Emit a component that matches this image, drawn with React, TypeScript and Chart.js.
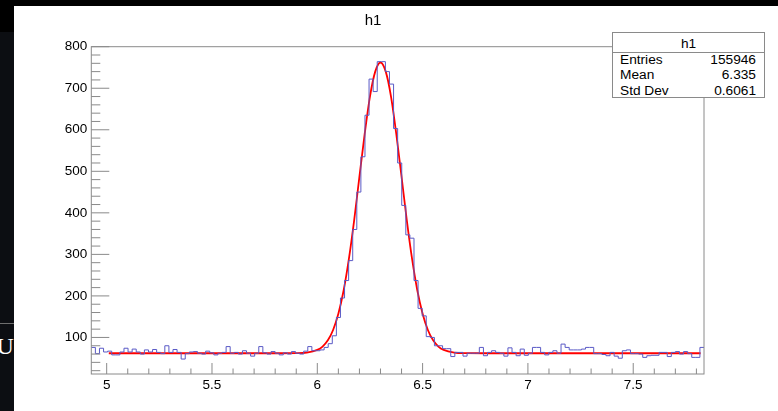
import React, { useEffect, useRef } from "react";
import { Chart, registerables } from "chart.js";

Chart.register(...registerables);

// ---- data ----
const HIST_TITLE = "h1";
const X_MIN = 4.927;
const X_MAX = 7.836;
const Y_MIN = 12;
const Y_MAX = 800;

// 150 bin contents (left to right)
const BIN_COUNTS = [
  76, 61, 74, 65, 67, 58, 58, 65, 74, 65,
  72, 65, 60, 70, 65, 71, 64, 61, 80, 64,
  71, 64, 48, 61, 65, 66, 62, 60, 67, 63,
  58, 62, 64, 78, 62, 64, 60, 68, 62, 55,
  62, 78, 63, 60, 66, 62, 58, 63, 60, 66,
  62, 60, 67, 78, 68, 68, 70, 76, 85, 104,
  148, 195, 237, 285, 360, 450, 535, 635, 722, 692,
  764, 764, 740, 710, 603, 520, 418, 347, 339, 237,
  170, 152, 102, 100, 80, 80, 73, 73, 54, 64,
  64, 55, 62, 62, 62, 76, 56, 64, 68, 64,
  62, 55, 75, 64, 56, 72, 57, 62, 76, 76,
  64, 58, 64, 68, 62, 84, 76, 70, 70, 70,
  72, 76, 76, 61, 61, 59, 56, 64, 55, 50,
  68, 70, 61, 61, 60, 52, 56, 57, 57, 64,
  64, 54, 64, 66, 60, 66, 61, 52, 52, 76,
];

// fit curve samples
const FIT_X = [
  5.01, 5.5, 5.8, 5.9, 5.95, 6.0, 6.025, 6.05, 6.075, 6.1, 6.125, 6.15, 6.175,
  6.2, 6.225, 6.25, 6.275, 6.3, 6.325, 6.35, 6.375, 6.4, 6.425, 6.45, 6.475,
  6.5, 6.525, 6.55, 6.575, 6.6, 6.65, 6.7, 6.8, 7.2, 7.82,
];
const FIT_Y = [
  62, 62, 62, 62.2, 63.5, 70, 78, 93, 118, 157, 213, 289, 382,
  487, 590, 680, 740, 762, 740, 680, 590, 487, 382, 289, 213,
  157, 118, 93, 78, 70, 63.5, 62.2, 62, 62, 62,
];

const X_TICKS = [5, 5.5, 6, 6.5, 7, 7.5];
const X_TICK_LABELS = ["5", "5.5", "6", "6.5", "7", "7.5"];
const X_MINOR = [
  5.1, 5.2, 5.3, 5.4, 5.6, 5.7, 5.8, 5.9, 6.1, 6.2, 6.3, 6.4,
  6.6, 6.7, 6.8, 6.9, 7.1, 7.2, 7.3, 7.4, 7.6, 7.7, 7.8,
];
const Y_TICKS = [100, 200, 300, 400, 500, 600, 700, 800];
const Y_TICK_LABELS = ["100", "200", "300", "400", "500", "600", "700", "800"];
const Y_MINOR = [
  20, 40, 60, 80, 120, 140, 160, 180, 220, 240, 260, 280, 320, 340, 360, 380,
  420, 440, 460, 480, 520, 540, 560, 580, 620, 640, 660, 680, 720, 740, 760, 780,
];

const STAT_NAMES = ["Entries", "Mean", "Std Dev"];
const STAT_VALUES = ["155946", "6.335", "0.6061"];

const FONT = "'Liberation Sans', Arial, Helvetica, sans-serif";
const FRAME = "#8a8a8a";

const frameTicks = {
  id: "frameTicks",
  afterDatasetsDraw(chart: any) {
    const { ctx, chartArea: a, scales } = chart;
    const x = scales.x;
    const y = scales.y;
    ctx.save();
    ctx.strokeStyle = FRAME;
    ctx.lineWidth = 1;
    ctx.strokeRect(a.left, a.top, a.right - a.left, a.bottom - a.top);
    ctx.beginPath();
    for (const v of X_TICKS) {
      const p = x.getPixelForValue(v);
      ctx.moveTo(p, a.bottom);
      ctx.lineTo(p, a.bottom - 11);
    }
    for (const v of X_MINOR) {
      const p = x.getPixelForValue(v);
      ctx.moveTo(p, a.bottom);
      ctx.lineTo(p, a.bottom - 5.5);
    }
    for (const v of Y_TICKS) {
      const p = y.getPixelForValue(v);
      ctx.moveTo(a.left, p);
      ctx.lineTo(a.left + 18, p);
    }
    for (const v of Y_MINOR) {
      const p = y.getPixelForValue(v);
      ctx.moveTo(a.left, p);
      ctx.lineTo(a.left + 9, p);
    }
    ctx.stroke();
    ctx.restore();
  },
};

export default function App() {
  const canvasRef = useRef<HTMLCanvasElement | null>(null);

  useEffect(() => {
    const canvas = canvasRef.current;
    if (!canvas) return;
    const binW = (X_MAX - X_MIN) / BIN_COUNTS.length;
    const histPoints = BIN_COUNTS.map((v, i) => ({ x: X_MIN + i * binW, y: v }));
    histPoints.push({ x: X_MAX, y: BIN_COUNTS[BIN_COUNTS.length - 1] });
    const fitPoints = FIT_X.map((xv, i) => ({ x: xv, y: FIT_Y[i] }));

    const chart = new Chart(canvas, {
      type: "line",
      data: {
        datasets: [
          {
            label: HIST_TITLE,
            data: histPoints,
            stepped: true,
            borderColor: "#5a5ac6",
            borderWidth: 1,
            pointRadius: 0,
            fill: false,
          },
          {
            label: "fit",
            data: fitPoints,
            borderColor: "#ff0000",
            borderWidth: 1.8,
            pointRadius: 0,
            fill: false,
            cubicInterpolationMode: "monotone",
          },
        ],
      },
      options: {
        responsive: false,
        animation: false,
        devicePixelRatio: 1,
        layout: { padding: { top: 40.7, right: 74, left: 0, bottom: 0 } },
        plugins: {
          legend: { display: false },
          title: { display: false },
          tooltip: { enabled: false },
        },
        scales: {
          x: {
            type: "linear",
            min: X_MIN,
            max: X_MAX,
            afterBuildTicks: (s: any) => {
              s.ticks = X_TICKS.map((v) => ({ value: v }));
            },
            afterFit: (s: any) => {
              s.height = 37;
            },
            grid: { display: false, drawTicks: false },
            border: { display: false },
            ticks: {
              padding: 3,
              autoSkip: false,
              maxRotation: 0,
              color: "#000",
              font: { family: FONT, size: 13.5 },
              callback: (_v: any, i: number) => X_TICK_LABELS[i],
            },
          },
          y: {
            type: "linear",
            min: Y_MIN,
            max: Y_MAX,
            afterBuildTicks: (s: any) => {
              s.ticks = Y_TICKS.map((v) => ({ value: v }));
            },
            afterFit: (s: any) => {
              s.width = 77.3;
            },
            grid: { display: false, drawTicks: false },
            border: { display: false },
            ticks: {
              padding: 4,
              autoSkip: false,
              color: "#000",
              font: { family: FONT, size: 13.5 },
              callback: (_v: any, i: number) => Y_TICK_LABELS[i],
            },
          },
        },
      },
      plugins: [frameTicks],
    } as any);
    return () => chart.destroy();
  }, []);

  const rowTops = [19, 34.1, 49.8];

  return (
    <div
      style={{
        position: "fixed",
        left: 0,
        top: 0,
        width: 778,
        height: 411,
        background: "#0c0e12",
        overflow: "hidden",
        fontFamily: FONT,
      }}
    >
      <div style={{ position: "absolute", left: 0, top: 0, width: 778, height: 6, background: "#000" }} />
      <div style={{ position: "absolute", left: 0, top: 0, width: 14, height: 32, background: "#000" }} />
      <div style={{ position: "absolute", left: 0, top: 323, width: 14, height: 1, background: "#6e6e6e" }} />
      <div
        style={{
          position: "absolute",
          left: -3.5,
          top: 332,
          fontFamily: "'Liberation Serif', 'Times New Roman', serif",
          fontSize: 24,
          lineHeight: "28px",
          color: "#fff",
        }}
      >
        U
      </div>
      <div style={{ position: "absolute", left: 14, top: 6, width: 764, height: 405, background: "#fff" }}>
        <canvas ref={canvasRef} width={764} height={405} style={{ display: "block", width: 764, height: 405 }} />
      </div>
      <div
        style={{
          position: "absolute",
          left: 343,
          top: 11,
          width: 60,
          textAlign: "center",
          fontSize: 15,
          lineHeight: "18px",
          color: "#000",
        }}
      >
        {HIST_TITLE}
      </div>
      <div
        style={{
          position: "absolute",
          left: 612,
          top: 32,
          width: 153,
          height: 66,
          boxSizing: "border-box",
          border: `1px solid ${FRAME}`,
          background: "#fff",
          color: "#000",
          fontSize: 13.7,
        }}
      >
        <div
          style={{
            position: "absolute",
            left: 0,
            top: 0,
            width: "100%",
            height: 20,
            boxSizing: "border-box",
            borderBottom: `1px solid ${FRAME}`,
            textAlign: "center",
            lineHeight: "15px",
            paddingTop: 3,
          }}
        >
          {HIST_TITLE}
        </div>
        {STAT_NAMES.map((n, i) => (
          <div
            key={n}
            style={{
              position: "absolute",
              left: 7,
              right: 8,
              top: rowTops[i],
              height: 15,
              lineHeight: "15px",
              display: "flex",
              justifyContent: "space-between",
            }}
          >
            <span>{n}</span>
            <span>{STAT_VALUES[i]}</span>
          </div>
        ))}
      </div>
    </div>
  );
}
